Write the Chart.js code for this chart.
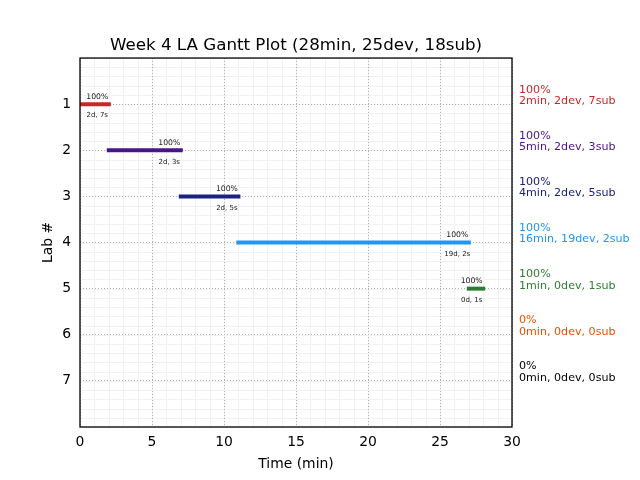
<!DOCTYPE html>
<html>
<head>
<meta charset="utf-8">
<script src="https://cdn.jsdelivr.net/npm/chart.js@4/dist/chart.umd.min.js"></script>
<style>
  html, body { margin: 0; padding: 0; background: #ffffff; }
  #c { display: block; }
</style>
</head>
<body>
<canvas id="c" width="640" height="480"></canvas>
<script>
// ---- data ----
const labs      = [1, 2, 3, 4, 5, 6, 7];
const starts    = [0, 2, 7, 11, 27, 0, 0];
const durations = [2, 5, 4, 16, 1, 0, 0];
const devs      = [2, 2, 2, 19, 0, 0, 0];
const subs      = [7, 3, 5, 2, 1, 0, 0];
const percents  = [100, 100, 100, 100, 100, 0, 0];
const colors    = ['#c62828', '#4a148c', '#1a237e', '#2196f3', '#2e7d32', '#e65100', '#000000'];
const xTicks    = [0, 5, 10, 15, 20, 25, 30];
const yTicks    = [1, 2, 3, 4, 5, 6, 7];
const titleText = 'Week 4 LA Gantt Plot (28min, 25dev, 18sub)';

const FONT = "'DejaVu Sans', sans-serif";

const datasets = [];
labs.forEach((lab, i) => {
  if (durations[i] <= 0) return;
  datasets.push({
    label: 'Lab ' + lab,
    data: [{ x: starts[i], y: lab }, { x: starts[i] + durations[i], y: lab }],
    borderColor: colors[i],
    backgroundColor: colors[i],
    borderWidth: 4,
    borderCapStyle: 'square',
    pointRadius: 0,
    pointHoverRadius: 0,
    fill: false,
    tension: 0
  });
});

const minorGrid = {
  id: 'minorGrid',
  beforeDraw(chart) {
    const { ctx, chartArea: a, scales: { x, y } } = chart;
    ctx.save();
    ctx.fillStyle = '#ffffff';
    ctx.fillRect(0, 0, chart.width, chart.height);
    ctx.strokeStyle = '#f2f2f2';
    ctx.lineWidth = 1;
    ctx.beginPath();
    for (let v = 0; v <= 30; v += 1) {
      const px = Math.round(x.getPixelForValue(v)) + 0.5;
      ctx.moveTo(px, a.top); ctx.lineTo(px, a.bottom);
    }
    for (let k = 0; k <= 40; k++) {
      const py = Math.round(y.getPixelForValue(k * 0.2)) + 0.5;
      ctx.moveTo(a.left, py); ctx.lineTo(a.right, py);
    }
    ctx.stroke();
    ctx.restore();
  }
};

const annotations = {
  id: 'annotations',
  afterDatasetsDraw(chart) {
    const { ctx, chartArea: a, scales: { x, y } } = chart;
    ctx.save();
    // frame
    ctx.strokeStyle = '#000000';
    ctx.lineWidth = 1.3;
    ctx.strokeRect(a.left, a.top, a.right - a.left, a.bottom - a.top);

    labs.forEach((lab, i) => {
      const py = y.getPixelForValue(lab);
      if (durations[i] > 0) {
        const end = starts[i] + durations[i];
        const px = x.getPixelForValue(end - 0.8);
        ctx.fillStyle = '#1a1a1a';
        ctx.textAlign = 'center';
        ctx.textBaseline = 'middle';
        ctx.font = '7.7px ' + FONT;
        ctx.fillText(percents[i] + '%', px, py - 7.5);
        ctx.font = '7px ' + FONT;
        ctx.fillText(devs[i] + 'd, ' + subs[i] + 's', px, py + 11.5);
      }
      // right side labels
      ctx.fillStyle = colors[i];
      ctx.textAlign = 'left';
      ctx.textBaseline = 'middle';
      ctx.font = '11.1px ' + FONT;
      ctx.fillText(percents[i] + '%', a.right + 7, py - 14.5);
      ctx.fillText(durations[i] + 'min, ' + devs[i] + 'dev, ' + subs[i] + 'sub', a.right + 7, py - 3);
    });
    ctx.restore();
  }
};

new Chart(document.getElementById('c'), {
  type: 'line',
  data: { datasets },
  options: {
    responsive: false,
    animation: false,
    devicePixelRatio: 1,
    layout: { padding: { left: 0, right: 128, top: 0, bottom: 0 } },
    plugins: {
      legend: { display: false },
      tooltip: { enabled: false },
      title: {
        display: true,
        text: titleText,
        fullSize: false,
        color: '#000000',
        font: { family: FONT, size: 16.7, weight: 'normal', lineHeight: 1.2 },
        padding: { top: 36, bottom: 2 }
      }
    },
    scales: {
      x: {
        type: 'linear',
        min: 0, max: 30,
        afterBuildTicks(scale) { scale.ticks = xTicks.map(v => ({ value: v })); },
        afterFit(scale) { scale.height = 53; },
        grid: { color: '#b0b0b0', lineWidth: 1, drawTicks: false },
        border: { display: false, dash: [1, 2] },
        ticks: { color: '#000000', padding: 7, font: { family: FONT, size: 13.9 }, maxRotation: 0 },
        title: { display: true, text: 'Time (min)', color: '#000000', font: { family: FONT, size: 13.9 }, padding: { top: 0, bottom: 7 } }
      },
      y: {
        type: 'linear',
        min: 0, max: 8,
        reverse: true,
        afterBuildTicks(scale) { scale.ticks = yTicks.map(v => ({ value: v })); },
        afterFit(scale) { scale.width = 80; },
        grid: { color: '#b0b0b0', lineWidth: 1, drawTicks: false },
        border: { display: false, dash: [1, 2] },
        ticks: { color: '#000000', padding: 9, font: { family: FONT, size: 13.9 } },
        title: { display: true, text: 'Lab #', color: '#000000', font: { family: FONT, size: 13.9 }, padding: { top: 40, bottom: 0 } }
      }
    }
  },
  plugins: [minorGrid, annotations]
});
</script>
</body>
</html>
